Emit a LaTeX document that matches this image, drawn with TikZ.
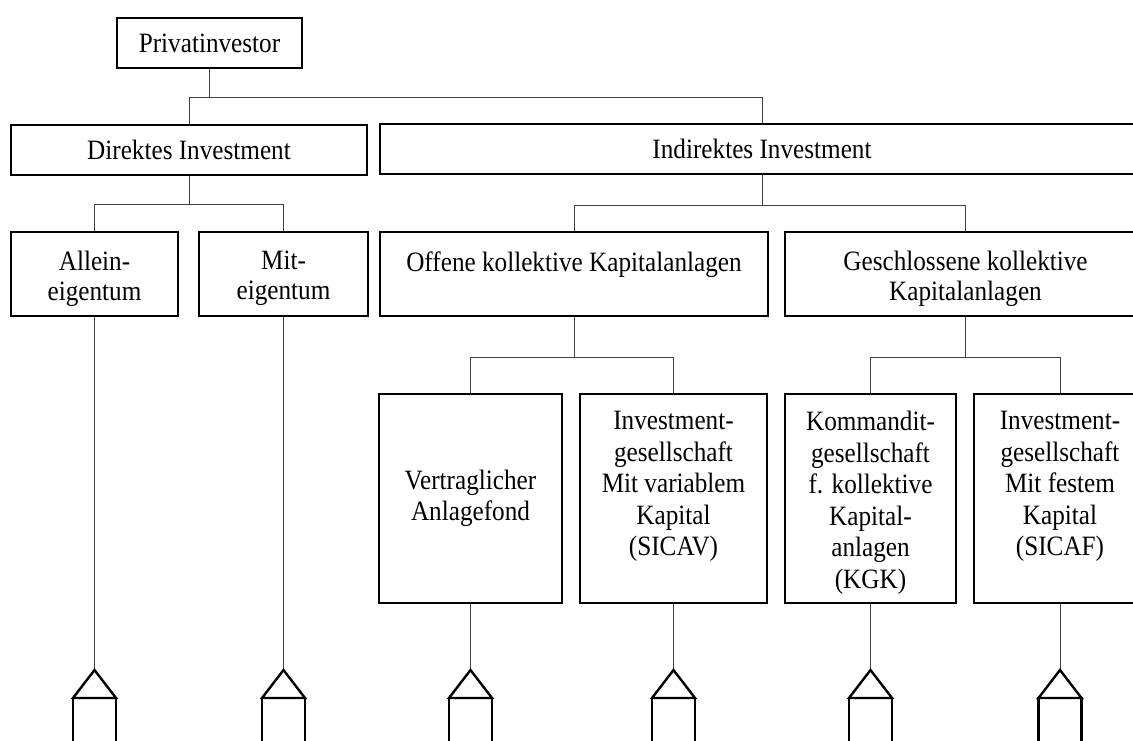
\documentclass[tikz,border=0pt]{standalone}
\usepackage{fontspec}
\setmainfont{Liberation Serif}[FakeStretch=0.9]
\begin{document}
\begin{tikzpicture}[x=1pt,y=-1pt,
  frame/.style={draw=black, line width=1.8pt, inner sep=0pt, align=center,
    font=\fontsize{28}{31}\selectfont},
  txt/.style={inner sep=0pt, align=center, anchor=north,
    font=\fontsize{28}{30}\selectfont},
  tall/.style={txt, font=\fontsize{28}{31.5}\selectfont},
  wire/.style={line width=1pt, draw=black!75},
  footline/.style={draw=black, line width=2.4pt, line join=miter}]
\useasboundingbox (0,0) rectangle (1133,740);
\clip (0,0) rectangle (1133,740);

% level 1 and 2
\node[frame, minimum width=185pt, minimum height=50pt] (priv) at (209.5,43) {Privatinvestor};
\node[frame, minimum width=356pt, minimum height=50pt] (dir) at (189,150) {Direktes Investment};
\node[frame, minimum width=764pt, minimum height=50pt] (ind) at (762,149) {Indirektes Investment};

% level 3 boxes
\node[frame, minimum width=167pt, minimum height=84pt] (allein) at (94.5,274) {};
\node[frame, minimum width=169pt, minimum height=84pt] (mit) at (283.5,274) {};
\node[frame, minimum width=388pt, minimum height=84pt] (offene) at (574,274) {};
\node[frame, minimum width=361pt, minimum height=84pt] (geschl) at (965.5,274) {};

\node[txt] (allein-t) at ([yshift=-20pt]allein.north) {Allein-\\eigentum};
\node[txt] (mit-t) at ([yshift=-20pt]mit.north) {Mit-\\eigentum};
\node[txt] (offene-t) at ([yshift=-20pt]offene.north) {Offene kollektive Kapitalanlagen};
\node[txt] (geschl-t) at ([yshift=-20pt]geschl.north) {Geschlossene kollektive\\Kapitalanlagen};

% level 4 boxes
\node[frame, minimum width=183pt, minimum height=209pt] (vertr) at (470.5,498.5) {Vertraglicher\\Anlagefond};
\node[frame, minimum width=187pt, minimum height=209pt] (sicav) at (673.5,498.5) {};
\node[frame, minimum width=171pt, minimum height=209pt] (kgk) at (870.5,498.5) {};
\node[frame, minimum width=172pt, minimum height=209pt] (sicaf) at (1060,498.5) {};

\node[tall] (sicav-t) at ([yshift=-18pt]sicav.north)
  {Investment-\\gesellschaft\\Mit variablem\\Kapital\\(SICAV)};
\node[tall] (kgk-t) at ([yshift=-18pt]kgk.north)
  {Kommandit-\\gesellschaft\\f. kollektive\\Kapital-\\anlagen\\(KGK)};
\node[tall] (sicaf-t) at ([yshift=-18pt]sicaf.north)
  {Investment-\\gesellschaft\\Mit festem\\Kapital\\(SICAF)};

% tree connectors
\draw[wire] (priv.south) -- ++(0,29) coordinate (j0) -| (dir.north);
\draw[wire] (j0) -| (ind.north);
\draw[wire] (dir.south) -- ++(0,29) coordinate (j1) -| (allein.north);
\draw[wire] (j1) -| (mit.north);
\draw[wire] (ind.south) -- ++(0,31) coordinate (j2) -| (offene.north);
\draw[wire] (j2) -| (geschl.north);
\draw[wire] (offene.south) -- ++(0,41) coordinate (j3) -| (vertr.north);
\draw[wire] (j3) -| (sicav.north);
\draw[wire] (geschl.south) -- ++(0,41) coordinate (j4) -| (kgk.north);
\draw[wire] (j4) -| (sicaf.north);

% continuation markers below the leaves
\foreach \n in {allein,mit,vertr,sicav,kgk,sicaf} {
  \coordinate (\n-f) at (\n.south |- 0,670);
  \draw[wire] (\n.south) -- (\n-f);
  \draw[footline] (\n-f) -- ++(-21.5,28) -- ++(43,0) -- cycle;
  \draw[footline] ([xshift=-21.5pt,yshift=-28pt]\n-f) rectangle ++(43,80);
}
\end{tikzpicture}
\end{document}
